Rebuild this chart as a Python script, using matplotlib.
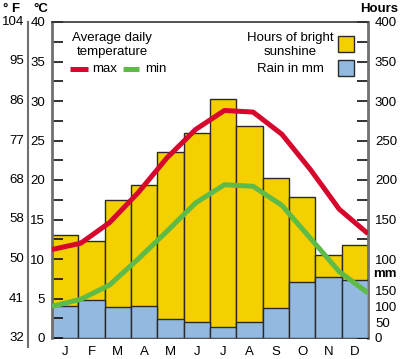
import matplotlib
matplotlib.use('Agg')
import matplotlib.pyplot as plt
from matplotlib.transforms import blended_transform_factory
from matplotlib.patches import Rectangle
from matplotlib.lines import Line2D
import numpy as np

plt.rcParams['font.family'] = ['Liberation Sans', 'DejaVu Sans']

months = ['J', 'F', 'M', 'A', 'M', 'J', 'J', 'A', 'S', 'O', 'N', 'D']
sunshine_hours = [131, 123, 175, 194, 236, 259, 303, 268, 202, 179, 105, 118]
rain_mm = [101, 120, 98, 101, 59, 50, 35, 50, 94, 177, 192, 185]
temp_max = [11.2, 12.0, 14.6, 18.4, 22.8, 26.4, 28.8, 28.6, 25.8, 21.3, 16.3, 13.2]
temp_min = [4.0, 4.9, 6.7, 10.0, 13.5, 17.1, 19.4, 19.2, 16.8, 12.6, 8.4, 5.7]

celsius_ticks = [0, 5, 10, 15, 20, 25, 30, 35, 40]
fahrenheit_labels = ['32', '41', '50', '58', '68', '77', '86', '95', '104']
hours_ticks = [100, 150, 200, 250, 300, 350, 400]
mm_ticks = [0, 50, 100, 150]

YELLOW = '#F5D000'
BLUE = '#93B9E1'
RED = '#D6062C'
GREEN = '#5EBB47'
EDGE = '#2a2a2a'
SPINE = '#707070'
FS = 9.5

W, H = 400, 359
fig = plt.figure(figsize=(W / 100, H / 100), dpi=100)
L, R, T, B = 52, 368, 22, 338
rect = [L / W, 1 - B / H, (R - L) / W, (B - T) / H]

# Hours (sunshine) axis
ax_h = fig.add_axes(rect)
x = np.arange(len(months))
ax_h.bar(x, sunshine_hours, width=1.0, color=YELLOW, edgecolor=EDGE, linewidth=1.0, zorder=2)
ax_h.set_xlim(-0.5, 11.5)
ax_h.set_ylim(0, 400)
ax_h.set_xticks(x)
ax_h.set_xticklabels(months, fontsize=FS)
ax_h.tick_params(axis='x', length=0, pad=6)

# Rain axis
ax_mm = ax_h.twinx()
ax_mm.bar(x, rain_mm, width=1.0, color=BLUE, edgecolor=EDGE, linewidth=1.0, zorder=2)
ax_mm.set_ylim(0, 1000)
ax_mm.set_yticks(mm_ticks)
ax_mm.set_yticklabels([str(v) for v in mm_ticks], fontsize=FS)
ax_mm.set_yticks([25, 75, 125, 175], minor=True)
ax_mm.tick_params(axis='y', which='both', direction='in', length=8, width=1.2,
                  color='#111111', pad=5)
for s in ax_mm.spines.values():
    s.set_visible(False)
ax_mm.patch.set_visible(False)

# hours ticks on right (after twinx, which resets them)
ax_h.yaxis.tick_right()
ax_h.yaxis.set_label_position('right')
ax_h.set_yticks(hours_ticks)
ax_h.set_yticklabels([str(v) for v in hours_ticks], fontsize=FS)
ax_h.set_yticks(np.arange(125, 400, 50), minor=True)
ax_h.tick_params(axis='y', which='both', direction='in', length=8, width=1.2,
                 color='#111111', pad=5, left=False, labelleft=False,
                 right=True, labelright=True)
for s in ['left', 'top']:
    ax_h.spines[s].set_visible(False)
ax_h.spines['right'].set_color(SPINE)
ax_h.spines['right'].set_linewidth(2)
ax_h.spines['bottom'].set_color('#333333')
ax_h.spines['bottom'].set_linewidth(1.2)

# Temperature axis
ax_t = fig.add_axes(rect)
ax_t.patch.set_visible(False)
ax_t.plot(np.arange(12), temp_max, color=RED, lw=3.6, solid_joinstyle='round',
          solid_capstyle='butt', zorder=3)
ax_t.plot(np.arange(12), temp_min, color=GREEN, lw=3.6, solid_joinstyle='round',
          solid_capstyle='butt', zorder=3)
ax_t.set_xlim(0, 11)
ax_t.set_ylim(0, 40)
ax_t.set_xticks([])
ax_t.set_yticks(celsius_ticks)
ax_t.set_yticklabels([str(v) for v in celsius_ticks], fontsize=FS)
ax_t.set_yticks(np.arange(2.5, 40, 5), minor=True)
ax_t.tick_params(axis='y', which='both', direction='in', length=8, width=1.2,
                 color='#111111', pad=5)
for s in ['right', 'bottom']:
    ax_t.spines[s].set_visible(False)
ax_t.spines['left'].set_color(SPINE)
ax_t.spines['left'].set_linewidth(2)
ax_t.spines['top'].set_color('#333333')
ax_t.spines['top'].set_linewidth(1.2)

# Fahrenheit labels (outer left)
trans = blended_transform_factory(fig.transFigure, ax_t.transData)
for c, f in zip(celsius_ticks, fahrenheit_labels):
    fig.text(24 / W, c, f, transform=trans, ha='right', va='center', fontsize=FS)
fig.add_artist(Line2D([28 / W, 28 / W], [1 - 22 / H, 1 - 347 / H], color=SPINE, lw=1.5))

# Headers
fig.text(3 / W, 1 - 9 / H, '° F', fontsize=FS, fontweight='bold', va='center', ha='left')
fig.text(33 / W, 1 - 9 / H, '°C', fontsize=FS, fontweight='bold', va='center', ha='left')
fig.text(398 / W, 1 - 9 / H, 'Hours', fontsize=FS, fontweight='bold', va='center', ha='right')
mm_y = (1 - 274 / H)
fig.text(373 / W, mm_y, 'mm', fontsize=FS, fontweight='bold', va='center', ha='left')

# Legend
fig.text(112 / W, 1 - 45 / H, 'Average daily\ntemperature', fontsize=FS, ha='center',
         va='center', linespacing=1.15)
fig.add_artist(Line2D([70 / W, 88 / W], [1 - 69 / H] * 2, color=RED, lw=3.6, solid_capstyle='butt'))
fig.text(92 / W, 1 - 69 / H, 'max', fontsize=FS, ha='left', va='center')
fig.add_artist(Line2D([123 / W, 139 / W], [1 - 69 / H] * 2, color=GREEN, lw=3.6, solid_capstyle='butt'))
fig.text(145 / W, 1 - 69 / H, 'min', fontsize=FS, ha='left', va='center')

fig.text(290 / W, 1 - 45 / H, 'Hours of bright\nsunshine', fontsize=FS, ha='center',
         va='center', linespacing=1.15)
fig.text(290 / W, 1 - 69 / H, 'Rain in mm', fontsize=FS, ha='center', va='center')
fig.add_artist(Rectangle((338 / W, 1 - 52 / H), 16 / W, 16 / H, facecolor=YELLOW,
                         edgecolor=EDGE, lw=1.0, transform=fig.transFigure))
fig.add_artist(Rectangle((338 / W, 1 - 76 / H), 16 / W, 16 / H, facecolor=BLUE,
                         edgecolor=EDGE, lw=1.0, transform=fig.transFigure))

fig.savefig('out.png', dpi=100)
